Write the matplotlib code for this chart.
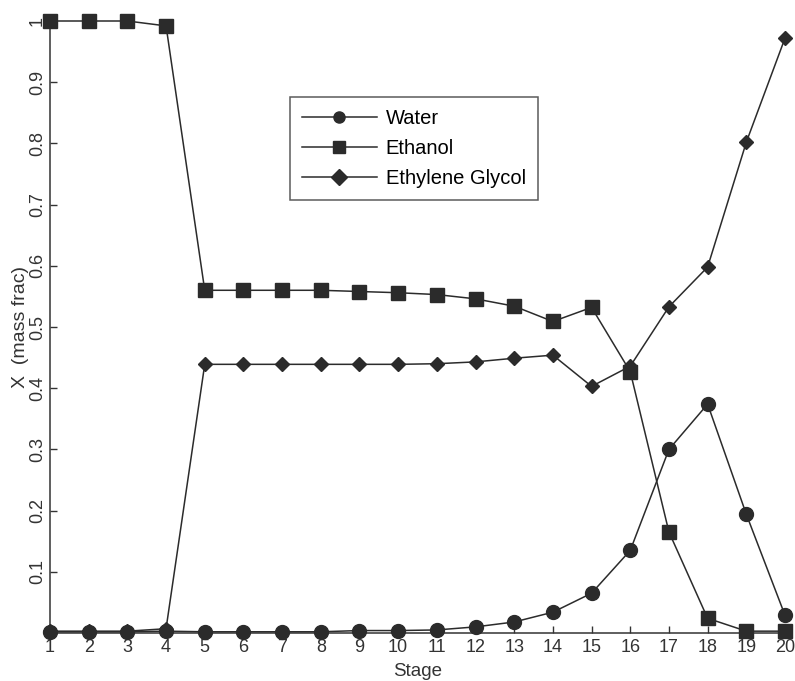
import matplotlib
matplotlib.use("Agg")
import matplotlib.pyplot as plt

plt.rcParams['font.family'] = ['Liberation Sans', 'DejaVu Sans']

stages = list(range(1, 21))
water = [0.002, 0.002, 0.002, 0.003, 0.002, 0.002, 0.002, 0.002, 0.004, 0.004,
         0.005, 0.010, 0.018, 0.034, 0.065, 0.135, 0.300, 0.374, 0.194, 0.029]
ethanol = [1.000, 1.000, 1.000, 0.992, 0.560, 0.560, 0.560, 0.560, 0.558, 0.556,
           0.553, 0.546, 0.534, 0.509, 0.532, 0.427, 0.165, 0.024, 0.003, 0.003]
glycol = [0.003, 0.003, 0.003, 0.007, 0.439, 0.439, 0.439, 0.439, 0.439, 0.439,
          0.440, 0.443, 0.449, 0.454, 0.403, 0.436, 0.533, 0.598, 0.802, 0.972]
yticks = [0.1, 0.2, 0.3, 0.4, 0.5, 0.6, 0.7, 0.8, 0.9, 1.0]
yticklabels = ['0.1', '0.2', '0.3', '0.4', '0.5', '0.6', '0.7', '0.8', '0.9', '1']

fig = plt.figure(figsize=(7.95, 6.81), dpi=100)
ax = fig.add_axes([50/795, 1-633/681, (785-50)/795, (633-21)/681])

c = '#2b2b2b'
ax.plot(stages, water, '-o', color=c, lw=1.1, ms=10, label='Water', clip_on=False, zorder=3)
ax.plot(stages, ethanol, '-s', color=c, lw=1.1, ms=10, label='Ethanol', clip_on=False, zorder=3)
ax.plot(stages, glycol, '-D', color=c, lw=1.1, ms=7.5, label='Ethylene Glycol', clip_on=False, zorder=3)

ax.set_xlim(1, 20)
ax.set_ylim(0, 1)
ax.set_xticks(stages)
ax.set_xticklabels([str(s) for s in stages])
ax.set_yticks(yticks)
ax.set_yticklabels(yticklabels, rotation=90, va='center')
ax.tick_params(direction='in', length=5, width=1, labelsize=13, colors='#333333', pad=3)
ax.tick_params(axis='x', pad=4)
ax.spines['top'].set_visible(False)
ax.spines['right'].set_visible(False)
for s in ('left', 'bottom'):
    ax.spines[s].set_color('#333333')
    ax.spines[s].set_linewidth(1.1)

ax.set_xlabel('Stage', fontsize=13.5, color='#333333', labelpad=5)
ax.set_ylabel('X  (mass frac)', fontsize=14, color='#333333', labelpad=0)

leg = ax.legend(loc='upper left', bbox_to_anchor=((290-50)/(785-50), (633-97)/(633-21)),
                fontsize=14.5, handlelength=3.7, frameon=True, fancybox=False,
                edgecolor='#333333', borderaxespad=0, labelspacing=0.55, borderpad=0.6,
                handletextpad=0.45)
leg.get_frame().set_linewidth(1.1)
for h in leg.legend_handles:
    h.set_markersize(8)

fig.savefig('out.png', dpi=100)
